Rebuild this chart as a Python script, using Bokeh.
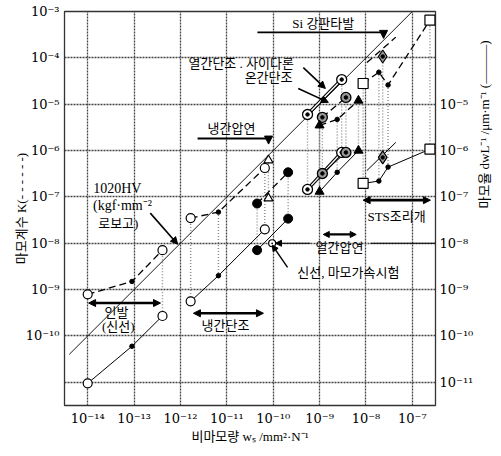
import math
from bokeh.plotting import figure
from bokeh.models import (Range1d, LogAxis, FixedTicker, Arrow, NormalHead, Label)
from bokeh.embed import file_html
from bokeh.resources import INLINE

# ---------------- data ----------------
x_ticks = [1e-14, 1e-13, 1e-12, 1e-11, 1e-10, 1e-9, 1e-8, 1e-7]
x_tick_labels = ["10⁻¹⁴", "10⁻¹³", "10⁻¹²", "10⁻¹¹", "10⁻¹⁰", "10⁻⁹", "10⁻⁸", "10⁻⁷"]
yl_ticks = [1e-11, 1e-10, 1e-9, 1e-8, 1e-7, 1e-6, 1e-5, 1e-4, 1e-3]
yl_tick_labels = ["", "10⁻¹⁰", "10⁻⁹", "10⁻⁸", "10⁻⁷", "10⁻⁶", "10⁻⁵", "10⁻⁴", "10⁻³"]
yr_ticks = [1e-11, 1e-10, 1e-9, 1e-8, 1e-7, 1e-6, 1e-5]
yr_tick_labels = ["10⁻¹¹", "10⁻¹⁰", "10⁻⁹", "10⁻⁸", "10⁻⁷", "10⁻⁶", "10⁻⁵"]

diag_ws = [4.0e-15, 1.0e-7]
diag_K = [4.0e-11, 1.0e-3]

# 인발 (신선)
drw_ws = [1.0e-14, 9.0e-14, 4.1e-13]
drw_K = [7.9e-10, 1.5e-9, 7.1e-9]
drw_dL = [9.5e-12, 6.0e-11, 2.7e-10]

# 냉간단조
cf_ws = [1.66e-12, 6.6e-12, 6.6e-11]
cf_K = [3.5e-8, 4.7e-8, 4.2e-7]
cf_dL = [5.6e-10, 2.0e-9, 2.0e-8]

# 마모가속시험 (filled circles)
acc_ws = [4.5e-11, 2.1e-10]
acc_K = [7.2e-8, 3.4e-7]
acc_dL = [7.1e-9, 3.4e-8]

# 냉간압연 (open triangles)
tri_ws = [7.9e-11]
tri_K = [6.2e-7]
tri_dL = [9.3e-8]

# 신선 point
wire_ws = [9.5e-11]
wire_dL = [1.0e-8]

# 열간단조 (circle with dot)
hf_ws = [5.5e-10, 3.0e-9]
hf_K = [6.0e-6, 3.4e-5]
hf_dL = [1.45e-7, 9.1e-7]

# 온간단조 (grey circle with dot)
wf_ws = [1.15e-9, 3.7e-9]
wf_K = [5.2e-6, 1.4e-5]
wf_dL = [3.2e-7, 9.1e-7]

# 열간압연 (filled triangles)
hr_ws = [1.0e-9, 2.4e-9, 6.9e-9]
hr_K = [3.5e-6, 4.7e-6, 1.2e-5]
hr_dL = [1.3e-7, 3.4e-7, 1.0e-6]

# Si 강판타발
si_ws = [2.3e-8]
si_K = [1.07e-4]
si_dL = [7.1e-7]
si_line_ws = [1.05e-8, 4.4e-8]
si_line_K = [7.9e-5, 2.8e-4]
si_line_dL = [3.7e-7, 1.5e-6]

# STS 조리개
sts_ws = [8.7e-9, 1.9e-8, 3.0e-8, 2.4e-7]
sts_K = [2.8e-5, 4.9e-5, 2.6e-5, 6.5e-4]
sts_dL = [1.95e-7, 2.2e-7, 4.4e-7, 1.07e-6]

# ---------------- figure ----------------
FONT = "'Liberation Serif', 'Noto Sans CJK KR', serif"
TICKFONT = "'DejaVu Serif', 'Liberation Serif', serif"

p = figure(frame_width=371, frame_height=394, x_axis_type="log", y_axis_type="log",
           x_range=Range1d(10**-14.5, 10**-6.5), y_range=Range1d(10**-11.5, 1e-3),
           output_backend="svg", toolbar_location=None,
           min_border_left=64, min_border_right=40, min_border_top=11, min_border_bottom=30)
p.background_fill_color = "white"
p.border_fill_color = "white"
p.outline_line_color = "#333333"
p.outline_line_width = 1.3

for ax in (p.xaxis[0], p.yaxis[0]):
    ax.major_tick_in = 0
    ax.major_tick_out = 0
    ax.minor_tick_in = 0
    ax.minor_tick_out = 0
    ax.axis_line_color = None
    ax.major_label_text_font = TICKFONT
    ax.major_label_text_font_size = "13px"
    ax.major_label_text_color = "black"
    ax.axis_label_text_font = FONT
    ax.axis_label_text_font_size = "13px"
    ax.axis_label_text_font_style = "normal"
    ax.axis_label_text_color = "black"

p.xaxis.ticker = FixedTicker(ticks=x_ticks)
p.xaxis.major_label_overrides = dict(zip(x_ticks, x_tick_labels))
p.xaxis.major_label_standoff = 5
p.xaxis.axis_label = "비마모량 wₛ /mm²·N⁻¹"
p.xaxis.axis_label_standoff = 0

p.yaxis.ticker = FixedTicker(ticks=yl_ticks)
p.yaxis.major_label_overrides = dict(zip(yl_ticks, yl_tick_labels))
p.yaxis.major_label_standoff = 5
p.yaxis.axis_label = "마모계수 K(- - - - - -)"
p.yaxis.axis_label_standoff = -6

ra = LogAxis(ticker=FixedTicker(ticks=yr_ticks), bounds=(10**-12.4, 10**-5.0))
ra.major_label_overrides = dict(zip(yr_ticks, yr_tick_labels))
ra.major_tick_in = 0
ra.major_tick_out = 0
ra.minor_tick_in = 0
ra.minor_tick_out = 0
ra.axis_line_color = None
ra.major_label_text_font = TICKFONT
ra.major_label_text_font_size = "13px"
ra.major_label_text_color = "black"
ra.major_label_standoff = 4
ra.axis_label = "마모율 dwL⁻¹ /μm·m⁻¹ (———)"
ra.axis_label_text_font = FONT
ra.axis_label_text_font_size = "13px"
ra.axis_label_text_font_style = "normal"
ra.axis_label_text_color = "black"
ra.axis_label_standoff = 8
try:
    ra.axis_label_orientation = math.pi / 2
except Exception:
    pass
p.add_layout(ra, "right")

for g in (p.xgrid[0], p.ygrid[0]):
    g.grid_line_color = "#444444"
    g.grid_line_width = 1.3
    g.grid_line_dash = "2 1"

# ---------------- vertical dotted connectors ----------------
conn_x, conn_y0, conn_y1 = [], [], []
for ws, K, dL in ((drw_ws[2:], drw_K[2:], drw_dL[2:]), (cf_ws, cf_K, cf_dL), (acc_ws, acc_K, acc_dL),
                  (tri_ws, tri_K, tri_dL), (hf_ws, hf_K, hf_dL), (wf_ws, wf_K, wf_dL),
                  (hr_ws, hr_K, hr_dL), (si_ws, si_K, si_dL), (sts_ws, sts_K, sts_dL)):
    conn_x += ws
    conn_y0 += K
    conn_y1 += dL
p.segment(conn_x, conn_y0, conn_x, conn_y1, line_color="#8a8a8a", line_width=1.4, line_dash="1 2")

# ---------------- lines ----------------
p.line(diag_ws, diag_K, line_color="black", line_width=0.9)
DASH = "7 4"
p.line(drw_ws, drw_K, line_color="black", line_width=1.3, line_dash=DASH)
p.line(drw_ws, drw_dL, line_color="black", line_width=1.0)
p.line(cf_ws, cf_K, line_color="black", line_width=1.3, line_dash=DASH)
p.line(cf_ws, cf_dL, line_color="black", line_width=1.0)
p.line(acc_ws, acc_K, line_color="black", line_width=1.3, line_dash=DASH)
p.line(acc_ws, acc_dL, line_color="black", line_width=1.0)
p.line(hf_ws, hf_K, line_color="black", line_width=3.5)
p.line(hf_ws, hf_K, line_color="white", line_width=1.3)
p.line(hf_ws, hf_dL, line_color="black", line_width=3.5)
p.line(hf_ws, hf_dL, line_color="white", line_width=1.3)
p.line(wf_ws, wf_K, line_color="black", line_width=1.3, line_dash=DASH)
p.line(wf_ws, wf_dL, line_color="black", line_width=1.0)
p.line(hr_ws, hr_K, line_color="black", line_width=1.3, line_dash=DASH)
p.line(hr_ws, hr_dL, line_color="black", line_width=1.0)
p.line(si_line_ws, si_line_K, line_color="black", line_width=1.3, line_dash=DASH)
p.line(si_line_ws, si_line_dL, line_color="black", line_width=1.0)
p.line(sts_ws, sts_K, line_color="black", line_width=1.3, line_dash=DASH)
p.line(sts_ws, sts_dL, line_color="black", line_width=1.0)

# ---------------- markers ----------------
def opencirc(xs, ys, size=9):
    p.scatter(xs, ys, marker="circle", size=size, fill_color="white", line_color="black", line_width=1.2)

def dot(xs, ys, size=4.5):
    p.scatter(xs, ys, marker="circle", size=size, fill_color="black", line_color="black")

ends = lambda a: [a[0], a[-1]]
mid = lambda a: a[1:-1]

opencirc(ends(drw_ws), ends(drw_K)); dot(mid(drw_ws), mid(drw_K))
opencirc(ends(drw_ws), ends(drw_dL)); dot(mid(drw_ws), mid(drw_dL))
opencirc(ends(cf_ws), ends(cf_K)); dot(mid(cf_ws), mid(cf_K))
opencirc(ends(cf_ws), ends(cf_dL)); dot(mid(cf_ws), mid(cf_dL))
dot(acc_ws, acc_K, 9); dot(acc_ws, acc_dL, 9)
p.scatter(tri_ws, tri_K, marker="triangle", size=9, fill_color="white", line_color="black", line_width=1.2)
p.scatter(tri_ws, tri_dL, marker="triangle", size=9, fill_color="white", line_color="black", line_width=1.2)
p.scatter(wire_ws, wire_dL, marker="circle_dot", size=7, fill_color="white", line_color="black", line_width=1.2)
for ys in (hf_K, hf_dL):
    p.scatter(hf_ws, ys, marker="circle", size=10, fill_color="white", line_color="black", line_width=1.3)
    dot(hf_ws, ys, 3.5)
for ys in (wf_K, wf_dL):
    p.scatter(wf_ws, ys, marker="circle", size=10, fill_color="#9a9a9a", line_color="black", line_width=1.3)
    dot(wf_ws, ys, 3.5)
for ys in (hr_K, hr_dL):
    p.scatter(ends(hr_ws), ends(ys), marker="triangle", size=9, fill_color="black", line_color="black")
    dot(mid(hr_ws), mid(ys))
for ys in (si_K, si_dL):
    p.scatter(si_ws, ys, marker="diamond", size=13, fill_color="#9a9a9a", line_color="black", line_width=1.2)
    dot(si_ws, ys, 3.5)
for ys in (sts_K, sts_dL):
    p.scatter(ends(sts_ws), ends(ys), marker="square", size=10, fill_color="white", line_color="black", line_width=1.2)
    dot(mid(sts_ws), mid(ys))

# ---------------- annotations ----------------
def D(lx, ly):
    return 10 ** lx, 10 ** ly

def txt(lx, ly, s, size="13px", angle=0.0):
    x, y = D(lx, ly)
    p.add_layout(Label(x=x, y=y, text=s, text_align="center", text_baseline="middle",
                       text_font=FONT, text_font_size=size, text_color="black", angle=angle))

def arrow(l0, l1, head=True, start=False, width=1.3, size=7):
    x0, y0 = D(*l0)
    x1, y1 = D(*l1)
    kw = {}
    kw["end"] = NormalHead(size=size, fill_color="black", line_color="black") if head else None
    kw["start"] = NormalHead(size=size, fill_color="black", line_color="black") if start else None
    p.add_layout(Arrow(x_start=x0, y_start=y0, x_end=x1, y_end=y1, line_width=width,
                       line_color="black", **kw))

txt(-8.92, -3.26, "Si 강판타발")
arrow((-10.34, -3.45), (-7.62, -3.45), head=False, width=1.8)
arrow((-7.62, -3.45), (-7.62, -3.58), size=8)

txt(-10.69, -4.12, "열간단조 . 사이다론")
txt(-10.1, -4.42, "온간단조")
arrow((-9.35, -4.21), (-8.875, -4.66), width=1.6)
arrow((-9.46, -4.66), (-8.81, -4.96), width=1.6)

txt(-10.9, -5.52, "냉간압연")
arrow((-11.63, -5.74), (-10.1, -5.74), head=False, width=1.8)
arrow((-10.1, -5.74), (-10.1, -5.86), size=8)

txt(-13.36, -6.81, "1020HV", "14px")
txt(-13.25, -7.18, "(kgf·mm⁻²", "14px")
txt(-13.34, -7.57, "로보고)")
arrow((-12.65, -7.35), (-12.06, -8.02), width=1.6)

txt(-13.38, -9.5, "인발")
txt(-13.34, -9.79, "(신선)")
arrow((-13.98, -9.29), (-12.43, -9.29), start=True, width=2.5)

txt(-11.03, -9.77, "냉간단조")
arrow((-11.72, -9.51), (-10.21, -9.51), start=True, width=2.5)

txt(-8.38, -8.63, "신선, 마모가속시험")
arrow((-9.69, -8.52), (-10.02, -8.04), width=1.4, size=6)

txt(-8.57, -8.09, "열간압연")
arrow((-9.2, -8.0), (-9.95, -8.0), width=1.0, size=6)
arrow((-7.9, -8.0), (-6.5, -8.0), head=False, width=1.0)
arrow((-8.92, -7.81), (-8.21, -7.81), start=True, width=2.2, size=6)

txt(-7.34, -7.42, "STS조리개")
arrow((-8.06, -7.07), (-6.61, -7.07), start=True, width=2.8)

open("out.html", "w").write(file_html(p, INLINE))
